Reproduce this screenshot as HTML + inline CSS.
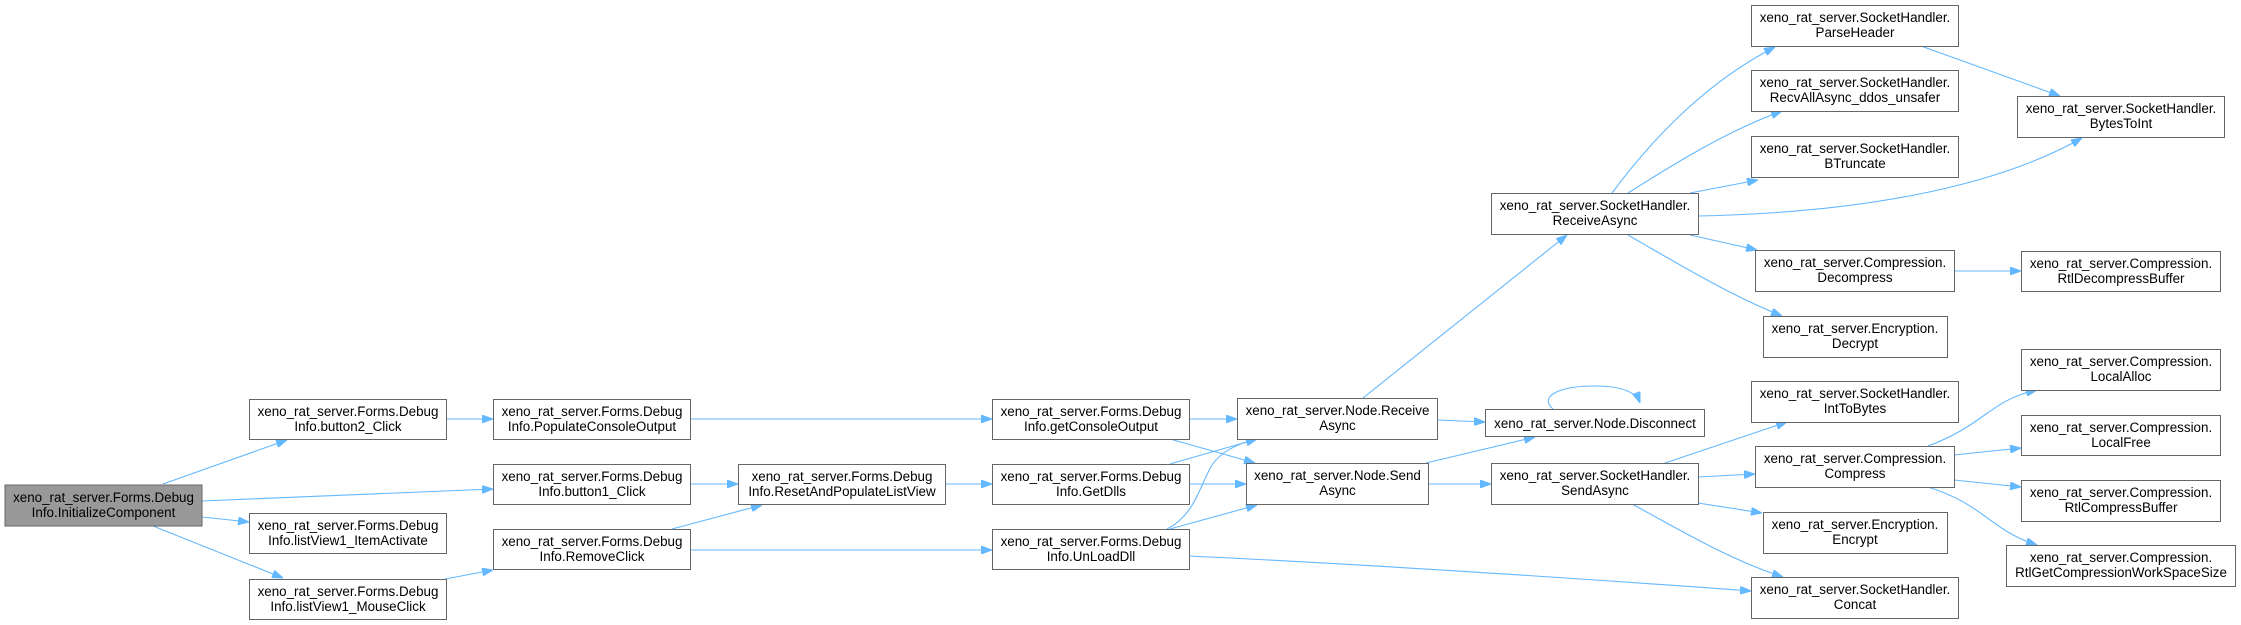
<!DOCTYPE html>
<html><head><meta charset="utf-8"><style>
html,body{margin:0;padding:0;background:#fff;}
svg{display:block;}
text{font-family:"Liberation Sans",Arial,sans-serif;font-size:13.4px;fill:#000;}
rect{stroke:#666;stroke-width:1;fill:#fff;}
path{fill:none;stroke:#63b8ff;stroke-width:1.1;}
</style></head><body>
<svg width="2241" height="625" viewBox="0 0 2241 625" xmlns="http://www.w3.org/2000/svg">
<defs><marker id="a" markerUnits="userSpaceOnUse" markerWidth="11" markerHeight="8" refX="11" refY="4" orient="auto"><path d="M0,0 L11,4 L0,8 z" style="fill:#63b8ff;stroke:#63b8ff;stroke-width:1"/></marker></defs>
<g marker-end="url(#a)">
<path d="M163,484 L287,440"/>
<path d="M202,501 L493,489"/>
<path d="M202,517 L249,522"/>
<path d="M153,526 L283,578"/>
<path d="M446,419 L493,419"/>
<path d="M445,579 L493,570"/>
<path d="M690,419 L992,419"/>
<path d="M690,484 L738,484"/>
<path d="M672,529 L762,505"/>
<path d="M690,550 L992,550"/>
<path d="M945,484 L992,484"/>
<path d="M1189,419 L1237,419"/>
<path d="M1170,439 L1255,463"/>
<path d="M1170,464 L1257,439"/>
<path d="M1189,484 L1246,484"/>
<path d="M1167,529 C1195,515 1200,485 1212,465 C1222,450 1240,443 1257,439"/>
<path d="M1170,529 L1257,505"/>
<path d="M1189,556 C1400,566 1600,580 1751,591"/>
<path d="M1363,398 L1567,235"/>
<path d="M1437,420 L1485,422"/>
<path d="M1426,463 L1535,437"/>
<path d="M1428,484 L1491,484"/>
<path d="M1553,409 C1538,396 1560,386 1595,386 C1622,386 1636,392 1640,403"/>
<path d="M1612,193 C1655,135 1710,80 1775,47"/>
<path d="M1628,193 C1680,160 1730,130 1782,111"/>
<path d="M1690,193 L1758,180"/>
<path d="M1698,216 C1850,213 1990,190 2082,138"/>
<path d="M1690,235 L1757,250"/>
<path d="M1628,235 C1680,265 1730,295 1782,316"/>
<path d="M1921,46 L2060,96"/>
<path d="M1954,271 L2021,271"/>
<path d="M1662,464 L1787,422"/>
<path d="M1698,477 L1755,474"/>
<path d="M1698,503 L1762,513"/>
<path d="M1632,504 C1680,530 1730,560 1783,577"/>
<path d="M1928,446 C1985,425 1990,400 2037,390"/>
<path d="M1954,455 L2021,448"/>
<path d="M1954,480 L2021,487"/>
<path d="M1928,487 C1985,505 1990,530 2037,545"/>
</g>
<g>
<rect x="5" y="485" width="197" height="41" style="fill:#999"/>
<text x="103.5" y="502" text-anchor="middle">xeno_rat_server.Forms.Debug</text><text x="103.5" y="517" text-anchor="middle">Info.InitializeComponent</text>
<rect x="249.5" y="399.5" width="197" height="40"/>
<text x="348" y="416" text-anchor="middle">xeno_rat_server.Forms.Debug</text><text x="348" y="431" text-anchor="middle">Info.button2_Click</text>
<rect x="249.5" y="513.5" width="197" height="40"/>
<text x="348" y="530" text-anchor="middle">xeno_rat_server.Forms.Debug</text><text x="348" y="545" text-anchor="middle">Info.listView1_ItemActivate</text>
<rect x="249.5" y="579.5" width="197" height="40"/>
<text x="348" y="596" text-anchor="middle">xeno_rat_server.Forms.Debug</text><text x="348" y="611" text-anchor="middle">Info.listView1_MouseClick</text>
<rect x="493.5" y="399.5" width="197" height="40"/>
<text x="592" y="416" text-anchor="middle">xeno_rat_server.Forms.Debug</text><text x="592" y="431" text-anchor="middle">Info.PopulateConsoleOutput</text>
<rect x="493.5" y="464.5" width="197" height="40"/>
<text x="592" y="481" text-anchor="middle">xeno_rat_server.Forms.Debug</text><text x="592" y="496" text-anchor="middle">Info.button1_Click</text>
<rect x="493.5" y="529.5" width="197" height="40"/>
<text x="592" y="546" text-anchor="middle">xeno_rat_server.Forms.Debug</text><text x="592" y="561" text-anchor="middle">Info.RemoveClick</text>
<rect x="738.5" y="464.5" width="207" height="40"/>
<text x="842" y="481" text-anchor="middle">xeno_rat_server.Forms.Debug</text><text x="842" y="496" text-anchor="middle">Info.ResetAndPopulateListView</text>
<rect x="992.5" y="399.5" width="197" height="40"/>
<text x="1091" y="416" text-anchor="middle">xeno_rat_server.Forms.Debug</text><text x="1091" y="431" text-anchor="middle">Info.getConsoleOutput</text>
<rect x="992.5" y="464.5" width="197" height="40"/>
<text x="1091" y="481" text-anchor="middle">xeno_rat_server.Forms.Debug</text><text x="1091" y="496" text-anchor="middle">Info.GetDlls</text>
<rect x="992.5" y="529.5" width="197" height="40"/>
<text x="1091" y="546" text-anchor="middle">xeno_rat_server.Forms.Debug</text><text x="1091" y="561" text-anchor="middle">Info.UnLoadDll</text>
<rect x="1237.5" y="398.5" width="200" height="41"/>
<text x="1337.5" y="415" text-anchor="middle">xeno_rat_server.Node.Receive</text><text x="1337.5" y="430" text-anchor="middle">Async</text>
<rect x="1246.5" y="463.5" width="182" height="41"/>
<text x="1337.5" y="480" text-anchor="middle">xeno_rat_server.Node.Send</text><text x="1337.5" y="495" text-anchor="middle">Async</text>
<rect x="1485.5" y="409.5" width="219" height="27"/>
<text x="1595" y="428" text-anchor="middle">xeno_rat_server.Node.Disconnect</text>
<rect x="1491.5" y="463.5" width="207" height="41"/>
<text x="1595" y="480" text-anchor="middle">xeno_rat_server.SocketHandler.</text><text x="1595" y="495" text-anchor="middle">SendAsync</text>
<rect x="1491.5" y="193.5" width="207" height="41"/>
<text x="1595" y="210" text-anchor="middle">xeno_rat_server.SocketHandler.</text><text x="1595" y="225" text-anchor="middle">ReceiveAsync</text>
<rect x="1751.5" y="5.5" width="207" height="41"/>
<text x="1855" y="22" text-anchor="middle">xeno_rat_server.SocketHandler.</text><text x="1855" y="37" text-anchor="middle">ParseHeader</text>
<rect x="1751.5" y="70.5" width="207" height="41"/>
<text x="1855" y="87" text-anchor="middle">xeno_rat_server.SocketHandler.</text><text x="1855" y="102" text-anchor="middle">RecvAllAsync_ddos_unsafer</text>
<rect x="1751.5" y="136.5" width="207" height="41"/>
<text x="1855" y="153" text-anchor="middle">xeno_rat_server.SocketHandler.</text><text x="1855" y="168" text-anchor="middle">BTruncate</text>
<rect x="1755.5" y="250.5" width="199" height="41"/>
<text x="1855" y="267" text-anchor="middle">xeno_rat_server.Compression.</text><text x="1855" y="282" text-anchor="middle">Decompress</text>
<rect x="1763.5" y="316.5" width="184" height="41"/>
<text x="1855" y="333" text-anchor="middle">xeno_rat_server.Encryption.</text><text x="1855" y="348" text-anchor="middle">Decrypt</text>
<rect x="1751.5" y="381.5" width="207" height="41"/>
<text x="1855" y="398" text-anchor="middle">xeno_rat_server.SocketHandler.</text><text x="1855" y="413" text-anchor="middle">IntToBytes</text>
<rect x="1755.5" y="446.5" width="199" height="41"/>
<text x="1855" y="463" text-anchor="middle">xeno_rat_server.Compression.</text><text x="1855" y="478" text-anchor="middle">Compress</text>
<rect x="1763.5" y="512.5" width="184" height="41"/>
<text x="1855" y="529" text-anchor="middle">xeno_rat_server.Encryption.</text><text x="1855" y="544" text-anchor="middle">Encrypt</text>
<rect x="1751.5" y="577.5" width="207" height="41"/>
<text x="1855" y="594" text-anchor="middle">xeno_rat_server.SocketHandler.</text><text x="1855" y="609" text-anchor="middle">Concat</text>
<rect x="2017.5" y="96.5" width="207" height="41"/>
<text x="2121" y="113" text-anchor="middle">xeno_rat_server.SocketHandler.</text><text x="2121" y="128" text-anchor="middle">BytesToInt</text>
<rect x="2021.5" y="251.5" width="199" height="40"/>
<text x="2121" y="268" text-anchor="middle">xeno_rat_server.Compression.</text><text x="2121" y="283" text-anchor="middle">RtlDecompressBuffer</text>
<rect x="2021.5" y="349.5" width="199" height="41"/>
<text x="2121" y="366" text-anchor="middle">xeno_rat_server.Compression.</text><text x="2121" y="381" text-anchor="middle">LocalAlloc</text>
<rect x="2021.5" y="415.5" width="199" height="40"/>
<text x="2121" y="432" text-anchor="middle">xeno_rat_server.Compression.</text><text x="2121" y="447" text-anchor="middle">LocalFree</text>
<rect x="2021.5" y="480.5" width="199" height="41"/>
<text x="2121" y="497" text-anchor="middle">xeno_rat_server.Compression.</text><text x="2121" y="512" text-anchor="middle">RtlCompressBuffer</text>
<rect x="2006.5" y="545.5" width="229" height="41"/>
<text x="2121" y="562" text-anchor="middle">xeno_rat_server.Compression.</text><text x="2121" y="577" text-anchor="middle">RtlGetCompressionWorkSpaceSize</text>
</g>
</svg>
</body></html>
